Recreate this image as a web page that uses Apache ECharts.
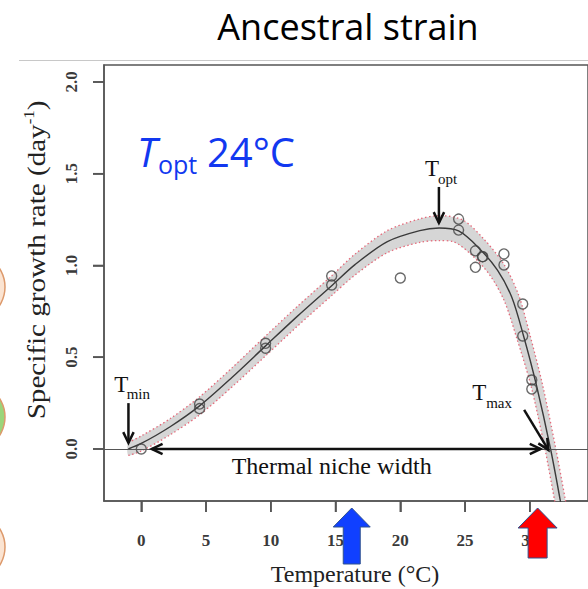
<!DOCTYPE html>
<html>
<head>
<meta charset="utf-8">
<script src="https://cdn.jsdelivr.net/npm/echarts@6/dist/echarts.min.js"></script>
<style>
  html, body { margin: 0; padding: 0; background: #fff; }
  #chart { width: 588px; height: 589px; }
</style>
</head>
<body>
<div id="chart"></div>
<script>
// Measured specific growth rates (temperature in °C, rate in day^-1)
const obsTemp = [0, 4.5, 4.5, 9.6, 9.6, 14.7, 14.7, 20.0, 24.5, 24.5, 25.8, 25.8, 26.35, 26.35, 28.0, 28.0, 29.45, 29.45, 30.15, 30.15];
const obsRate = [0.0, 0.245, 0.22, 0.576, 0.549, 0.943, 0.894, 0.932, 1.253, 1.193, 1.08, 0.99, 1.048, 1.048, 1.063, 1.003, 0.79, 0.616, 0.376, 0.327];

// Fitted thermal performance curve
const fitTemp = [-1.0, 0, 2.2, 4.5, 7, 9.6, 12, 14.7, 16.5, 19, 21.5, 23, 24.5, 26, 27.5, 28.6, 29.5, 30.5, 31.6, 32.4];
const fitRate = [0, 0.03, 0.12, 0.235, 0.39, 0.562, 0.72, 0.89, 1.005, 1.13, 1.19, 1.204, 1.188, 1.10, 0.975, 0.828, 0.62, 0.35, 0.0, -0.30];

// Confidence band around the fit
const upperTemp = [-1.0, 0, 2.2, 4.5, 7, 9.6, 12, 14.7, 16.5, 19, 21.5, 23, 24.84, 26.5, 28.03, 29.13, 29.99, 30.96, 31.98, 32.73, 32.95];
const upperRate = [0.035, 0.071, 0.164, 0.284, 0.442, 0.616, 0.774, 0.944, 1.062, 1.19, 1.254, 1.272, 1.247, 1.14, 1.003, 0.84, 0.626, 0.356, 0.011, -0.272, -0.36];
const lowerTemp = [-1.0, 0, 2.2, 4.5, 7, 9.6, 12, 14.7, 16.5, 19, 21.5, 23, 24.11, 25.44, 26.91, 28.04, 28.98, 30.1, 31.17, 31.92, 32.12];
const lowerRate = [-0.035, -0.011, 0.076, 0.186, 0.338, 0.508, 0.666, 0.836, 0.948, 1.07, 1.126, 1.136, 1.129, 1.062, 0.948, 0.805, 0.606, 0.341, -0.001, -0.284, -0.36];

// Axis ticks
const xTicks = [0, 5, 10, 15, 20, 25, 30];
const yTicks = [0, 0.5, 1.0, 1.5, 2.0];

// Cardinal temperatures
const tMin = -0.99;
const tOpt = 22.98;
const tMax = 31.58;
const nicheFrom = 0.81;
const nicheTo = 30.83;

// Temperatures flagged below the axis (blue, red)
const markerTemps = [16.25, 30.6];

const X_MIN = -2.877, X_MAX = 34.49;
const Y_MIN = -0.2834, Y_MAX = 2.0926;

const serif = '"Liberation Serif", "DejaVu Serif", serif';
const sans = '"Open Sans", "Noto Sans", sans-serif';

const pairs = (xs, ys) => xs.map((x, i) => [x, ys[i]]);
const upperPts = pairs(upperTemp, upperRate);
const lowerPts = pairs(lowerTemp, lowerRate);

const chart = echarts.init(document.getElementById('chart'), null, { renderer: 'svg' });

const labelFont = () => ({ fontFamily: serif, fontSize: 17, fontWeight: 'bold', color: '#3a3a3a' });

chart.setOption({
  animation: false,
  grid: { left: 104, top: 65, width: 500, height: 436, show: true, borderColor: '#555', borderWidth: 1.5 },
  xAxis: {
    type: 'value', min: X_MIN, max: X_MAX,
    axisLine: { show: true, onZero: false, lineStyle: { color: '#555', width: 1.5 } },
    splitLine: { show: false },
    axisTick: { show: true, customValues: xTicks, length: 11, lineStyle: { color: '#555', width: 1.6 } },
    axisLabel: Object.assign({ customValues: xTicks, margin: 31 }, labelFont())
  },
  yAxis: {
    type: 'value', min: Y_MIN, max: Y_MAX,
    axisLine: { show: true, onZero: false, lineStyle: { color: '#555', width: 1.5 } },
    splitLine: { show: false },
    axisTick: { show: true, customValues: yTicks, length: 11, lineStyle: { color: '#555', width: 1.6 } },
    axisLabel: Object.assign({ customValues: yTicks, rotate: 90, margin: 24, formatter: v => v.toFixed(1) }, labelFont())
  },
  series: [
    {
      // shaded confidence band
      type: 'custom', name: 'band', silent: true, clip: true, z: 1,
      data: [[tOpt, 0]],
      renderItem: (params, api) => {
        const pts = upperPts.map(p => api.coord(p))
          .concat(lowerPts.slice().reverse().map(p => api.coord(p)));
        return { type: 'polygon', shape: { points: pts, smooth: 0.25 }, style: { fill: '#d6d6d6' } };
      }
    },
    {
      type: 'line', name: 'upper', data: upperPts, showSymbol: false, smooth: 0.3, silent: true, z: 2,
      lineStyle: { color: '#e46a7a', width: 1.3, type: [1.5, 2.5] }
    },
    {
      type: 'line', name: 'lower', data: lowerPts, showSymbol: false, smooth: 0.3, silent: true, z: 2,
      lineStyle: { color: '#e46a7a', width: 1.3, type: [1.5, 2.5] }
    },
    {
      type: 'line', name: 'fit', data: pairs(fitTemp, fitRate), showSymbol: false, smooth: 0.3, silent: true, z: 3,
      lineStyle: { color: '#3a3a3a', width: 1.4 },
      markLine: {
        silent: true, symbol: 'none', label: { show: false },
        lineStyle: { color: '#555', width: 1.2, type: 'solid' },
        data: [{ yAxis: 0 }]
      }
    },
    {
      type: 'scatter', name: 'observed', data: pairs(obsTemp, obsRate), symbol: 'circle', symbolSize: 10, z: 4,
      itemStyle: { color: 'rgba(0,0,0,0)', borderColor: '#444', borderWidth: 1.4 }
    }
  ]
});

const px = (t, r) => chart.convertToPixel({ xAxisIndex: 0, yAxisIndex: 0 }, [t, r]);

// open V-shaped arrow head at p1, pointing away from p0
function head(p0, p1) {
  const a = Math.atan2(p1[1] - p0[1], p1[0] - p0[0]);
  const L = 12, s = Math.PI / 7;
  return {
    type: 'polyline', z: 120, silent: true,
    shape: { points: [
      [p1[0] - L * Math.cos(a - s), p1[1] - L * Math.sin(a - s)],
      p1,
      [p1[0] - L * Math.cos(a + s), p1[1] - L * Math.sin(a + s)]
    ] },
    style: { stroke: '#111', lineWidth: 2.5, fill: null }
  };
}
function arrow(p0, p1, both) {
  const els = [
    { type: 'line', z: 120, silent: true, shape: { x1: p0[0], y1: p0[1], x2: p1[0], y2: p1[1] }, style: { stroke: '#111', lineWidth: 2.5 } },
    head(p0, p1)
  ];
  if (both) els.push(head(p1, p0));
  return els;
}
// text positioned by its left end and baseline
function txt(x, baseline, text, size, opts) {
  const o = opts || {};
  return {
    type: 'text', z: 130, silent: true, x: x, y: baseline - (o.k || 0.34) * size,
    style: Object.assign({
      text: text, fontFamily: serif, fontSize: size, fill: '#111',
      align: 'left', verticalAlign: 'middle'
    }, o.style || {})
  };
}
function subscripted(tail, dx, dy, main, sub, sdx, sdy) {
  return [
    txt(tail[0] + dx, tail[1] + dy, main, 23),
    txt(tail[0] + dx + sdx, tail[1] + dy + sdy, sub, 15)
  ];
}

const g = [];
const corner = px(X_MIN, Y_MIN);

// outward tick marks at the tick values
xTicks.forEach(t => {
  const x = px(t, 0)[0];
  g.push({ type: 'line', z: 200, silent: true, shape: { x1: x, y1: corner[1], x2: x, y2: corner[1] + 11 }, style: { stroke: '#555', lineWidth: 1.6 } });
});
yTicks.forEach(r => {
  const y = px(0, r)[1];
  g.push({ type: 'line', z: 200, silent: true, shape: { x1: corner[0] - 11, y1: y, x2: corner[0], y2: y }, style: { stroke: '#555', lineWidth: 1.6 } });
});

// slide decorations
g.push({ type: 'line', silent: true, shape: { x1: 19, y1: 60.5, x2: 588, y2: 60.5 }, style: { stroke: '#c8c8c8', lineWidth: 1 } });
[[287, '#fbe4d2'], [417, '#9ad57a'], [547, '#fbe4d2']].forEach(([cy, fill]) => {
  g.push({ type: 'circle', silent: true, shape: { cx: -29, cy: cy, r: 34 }, style: { fill: fill, stroke: '#dd9a6c', lineWidth: 1.5 } });
});

// headline texts
g.push({ type: 'text', silent: true, x: 348, y: 26, style: { text: 'Ancestral strain', fontFamily: sans, fontSize: 36, fill: '#000', align: 'center', verticalAlign: 'middle' } });
g.push(txt(137, 167, 'T', 40, { k: 0.388, style: { fontFamily: sans, fontStyle: 'italic', fill: '#1238f0' } }));
g.push(txt(158, 174, 'opt', 25, { k: 0.388, style: { fontFamily: sans, fill: '#1238f0' } }));
g.push(txt(207, 167, '24°C', 40, { k: 0.388, style: { fontFamily: sans, fill: '#1238f0' } }));

// axis titles
g.push({ type: 'text', silent: true, x: 355, y: 582 - 0.34 * 24, style: { text: 'Temperature (°C)', fontFamily: serif, fontSize: 24, fill: '#222', align: 'center', verticalAlign: 'middle' } });
g.push({
  type: 'text', silent: true, x: 36, y: 260, rotation: Math.PI / 2, scaleX: 1.12,
  style: {
    text: '{a|Specific growth rate (day}{s|-1}{a|)}',
    align: 'center', verticalAlign: 'middle',
    rich: {
      a: { fontFamily: serif, fontSize: 26, fill: '#222', lineHeight: 30 },
      s: { fontFamily: serif, fontSize: 15, fill: '#222', lineHeight: 30, verticalAlign: 'top' }
    }
  }
});

// cardinal temperature arrows and labels
const minTail = px(tMin, 0.25), minTip = px(tMin, 0.033);
g.push(...arrow(minTail, minTip));
g.push(...subscripted(minTail, -14.3, -11, 'T', 'min', 12.5, 7));

const optTail = px(tOpt, 1.428), optTip = px(tOpt, 1.232);
g.push(...arrow(optTail, optTip));
g.push(...subscripted(optTail, -14, -11, 'T', 'opt', 13, 8));

const maxTail = px(29.56, 0.213), maxTip = px(tMax - 0.15, -0.005);
g.push(...arrow(maxTail, maxTip));
g.push(...subscripted(maxTail, -52, -10, 'T', 'max', 14, 8));

// thermal niche width
g.push(...arrow(px(nicheFrom, 0), px(nicheTo, 0), true));
const nicheMid = px(14.7, 0);
g.push({ type: 'text', z: 130, silent: true, x: nicheMid[0], y: 474 - 0.34 * 24, style: { text: 'Thermal niche width', fontFamily: serif, fontSize: 24, fill: '#111', align: 'center', verticalAlign: 'middle' } });

// block arrows under the axis
const markerStyle = [
  { fill: '#1040ff', hw: 18.5, hh: 19, sw: 8.5, len: 56 },
  { fill: '#ff0000', hw: 19.5, hh: 20, sw: 9.5, len: 50 }
];
markerTemps.forEach((t, i) => {
  const m = markerStyle[i];
  const tip = [px(t, 0)[0], corner[1] + 7];
  const pts = [
    [0, 0], [m.hw, m.hh], [m.sw, m.hh], [m.sw, m.len], [-m.sw, m.len], [-m.sw, m.hh], [-m.hw, m.hh]
  ].map(([dx, dy]) => [tip[0] + dx, tip[1] + dy]);
  g.push({ type: 'polygon', z: 140, silent: true, shape: { points: pts }, style: { fill: m.fill, stroke: '#2f528f', lineWidth: 1 } });
});

chart.setOption({ graphic: g });
</script>
</body>
</html>
